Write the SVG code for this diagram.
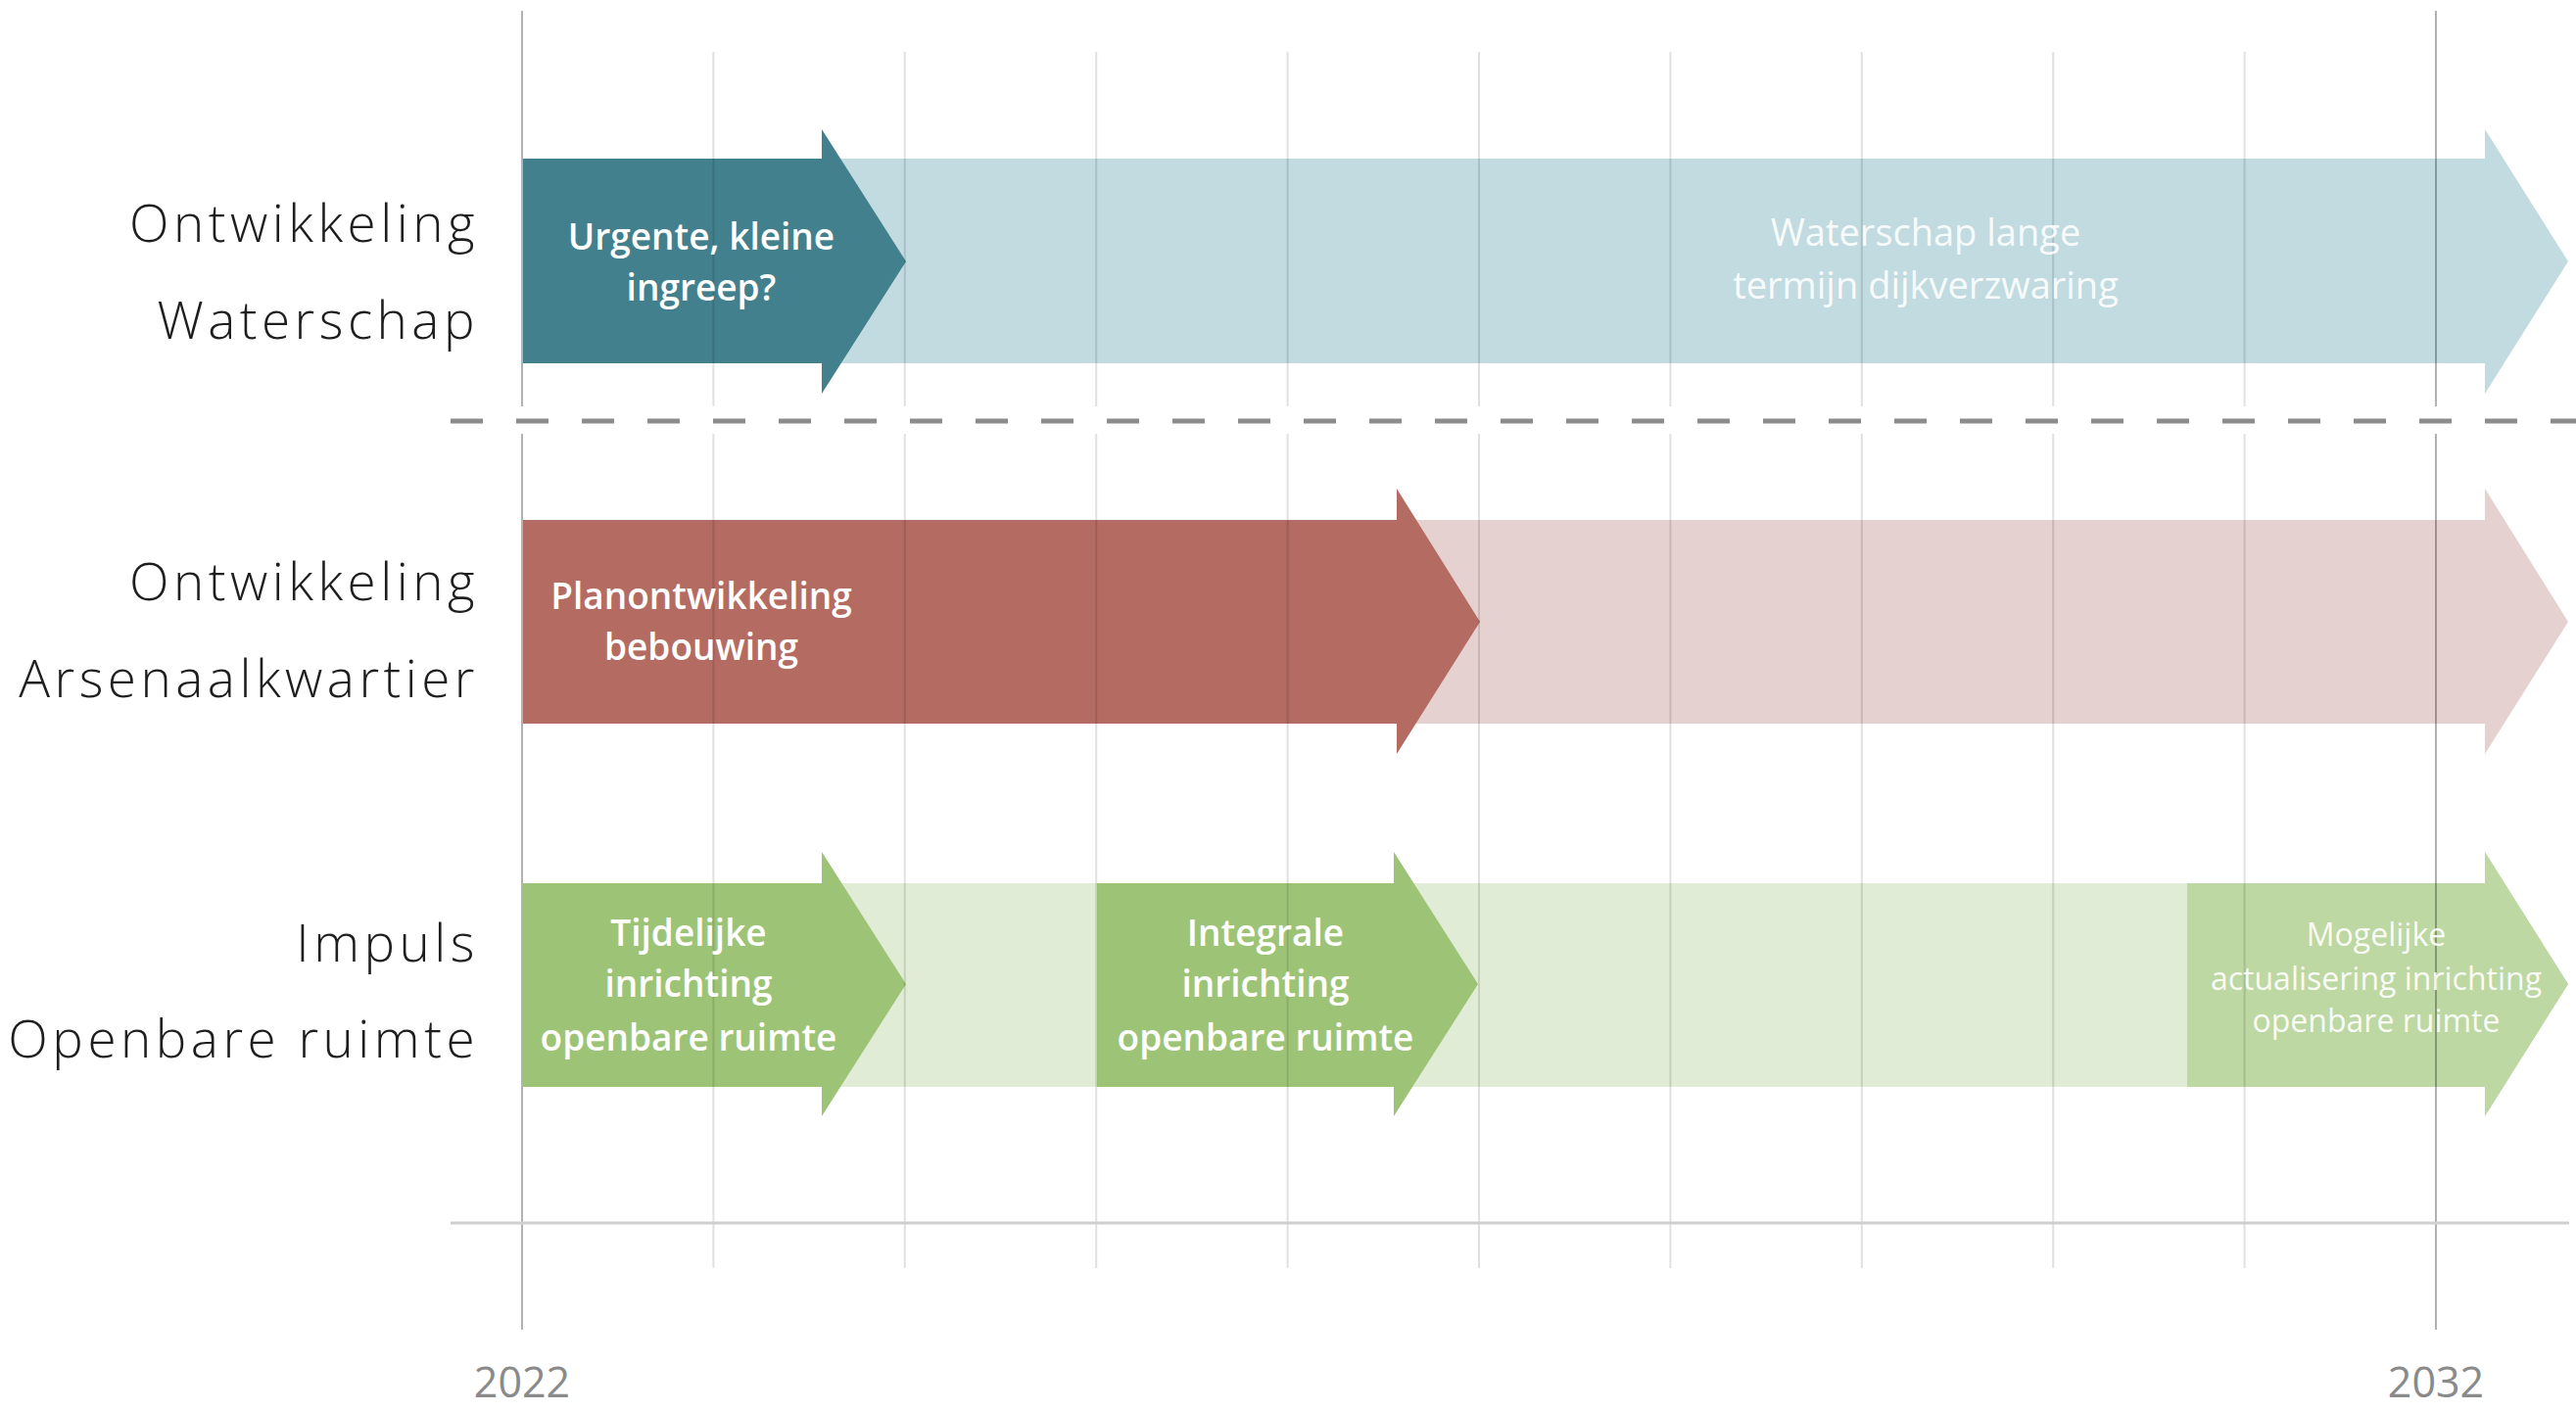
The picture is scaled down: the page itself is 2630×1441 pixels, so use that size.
<svg xmlns="http://www.w3.org/2000/svg" width="2630" height="1441" viewBox="0 0 2630 1441">
<style>
.lbl{font-family:"Open Sans","Liberation Sans",sans-serif;font-weight:300;font-size:53px;letter-spacing:4.5px;fill:#1e1e1e;text-anchor:end}
.in{font-family:"Open Sans","Liberation Sans",sans-serif;font-weight:600;font-size:37px;fill:#ffffff;text-anchor:middle}
.inl{font-family:"Open Sans","Liberation Sans",sans-serif;font-weight:400;font-size:38px;fill:#ffffff;fill-opacity:0.9;text-anchor:middle}
.ins{font-family:"Open Sans","Liberation Sans",sans-serif;font-weight:400;font-size:32px;fill:#ffffff;fill-opacity:0.92;text-anchor:middle}
.yr{font-family:"Open Sans","Liberation Sans",sans-serif;font-weight:400;font-size:43px;fill:#8a8a8a;text-anchor:middle}
.g{stroke:#000;stroke-opacity:0.12;stroke-width:2}
.gm{stroke:#000;stroke-opacity:0.3;stroke-width:2}
</style>
<rect width="2630" height="1441" fill="#ffffff"/>
<g id="waterschap-lang"><path d="M534,162 H2537 V132 L2622,267 L2537,402 V371 H534 Z" fill="#c1dbe0"/></g>
<g id="waterschap-urgent"><path d="M534,162 H839 V132 L925,267 L839,402 V371 H534 Z" fill="#41808c"/></g>
<g id="arsenaal-lang"><path d="M534,531 H2537 V499 L2622,635 L2537,770 V739 H534 Z" fill="#e5d1cf"/></g>
<g id="arsenaal-plan"><path d="M534,531 H1426 V499 L1511,635 L1426,770 V739 H534 Z" fill="#b46b62"/></g>
<g id="openbaar-lang"><path d="M534,902 H2537 V870 L2622,1005 L2537,1140 V1110 H534 Z" fill="#e0ecd6"/></g>
<g id="openbaar-tijdelijk"><path d="M534,902 H839 V870 L925,1005 L839,1140 V1110 H534 Z" fill="#9dc476"/></g>
<g id="openbaar-integraal"><path d="M1120,902 H1423 V870 L1509,1005 L1423,1140 V1110 H1120 Z" fill="#9dc476"/></g>
<g id="openbaar-actualisering"><path d="M2233,902 H2537 V870 L2622,1005 L2537,1140 V1110 H2233 Z" fill="#bdd8a2"/></g>
<g id="connectors">
<g class="g">
<line x1="728.4" y1="53" x2="728.4" y2="415"/><line x1="728.4" y1="443" x2="728.4" y2="1295"/>
<line x1="923.8" y1="53" x2="923.8" y2="415"/><line x1="923.8" y1="443" x2="923.8" y2="1295"/>
<line x1="1119.2" y1="53" x2="1119.2" y2="415"/><line x1="1119.2" y1="443" x2="1119.2" y2="1295"/>
<line x1="1314.6" y1="53" x2="1314.6" y2="415"/><line x1="1314.6" y1="443" x2="1314.6" y2="1295"/>
<line x1="1510" y1="53" x2="1510" y2="415"/><line x1="1510" y1="443" x2="1510" y2="1295"/>
<line x1="1705.4" y1="53" x2="1705.4" y2="415"/><line x1="1705.4" y1="443" x2="1705.4" y2="1295"/>
<line x1="1900.8" y1="53" x2="1900.8" y2="415"/><line x1="1900.8" y1="443" x2="1900.8" y2="1295"/>
<line x1="2096.2" y1="53" x2="2096.2" y2="415"/><line x1="2096.2" y1="443" x2="2096.2" y2="1295"/>
<line x1="2291.6" y1="53" x2="2291.6" y2="415"/><line x1="2291.6" y1="443" x2="2291.6" y2="1295"/>
</g>
<g class="gm">
<line x1="533" y1="11" x2="533" y2="415"/><line x1="533" y1="443" x2="533" y2="1358"/>
<line x1="2487" y1="11" x2="2487" y2="415"/><line x1="2487" y1="443" x2="2487" y2="1358"/>
</g>
<line x1="460" y1="430" x2="2630" y2="430" stroke="#8c8c8c" stroke-width="5" stroke-dasharray="33 34"/>
<line x1="460" y1="1249" x2="2623" y2="1249" stroke="#cfcfcf" stroke-width="3"/>
</g>
<g id="labels">
<text class="lbl" x="489" y="247">Ontwikkeling</text>
<text class="lbl" x="489" y="346">Waterschap</text>
<text class="lbl" x="489" y="613">Ontwikkeling</text>
<text class="lbl" x="489" y="712">Arsenaalkwartier</text>
<text class="lbl" x="489" y="982">Impuls</text>
<text class="lbl" x="489" y="1080">Openbare ruimte</text>
</g>
<g id="arrow-texts">
<text class="in" x="716" y="255">Urgente, kleine</text>
<text class="in" x="716" y="307">ingreep?</text>
<text class="inl" x="1966" y="251">Waterschap lange</text>
<text class="inl" x="1966" y="305">termijn dijkverzwaring</text>
<text class="in" x="716" y="622">Planontwikkeling</text>
<text class="in" x="716" y="674">bebouwing</text>
<text class="in" x="703" y="966">Tijdelijke</text>
<text class="in" x="703" y="1018">inrichting</text>
<text class="in" x="703" y="1073">openbare ruimte</text>
<text class="in" x="1292" y="966">Integrale</text>
<text class="in" x="1292" y="1018">inrichting</text>
<text class="in" x="1292" y="1073">openbare ruimte</text>
<text class="ins" x="2426" y="966">Mogelijke</text>
<text class="ins" x="2426" y="1011">actualisering inrichting</text>
<text class="ins" x="2426" y="1054">openbare ruimte</text>
</g>
<g id="years">
<text class="yr" x="533" y="1427">2022</text>
<text class="yr" x="2487" y="1427">2032</text>
</g>
</svg>
